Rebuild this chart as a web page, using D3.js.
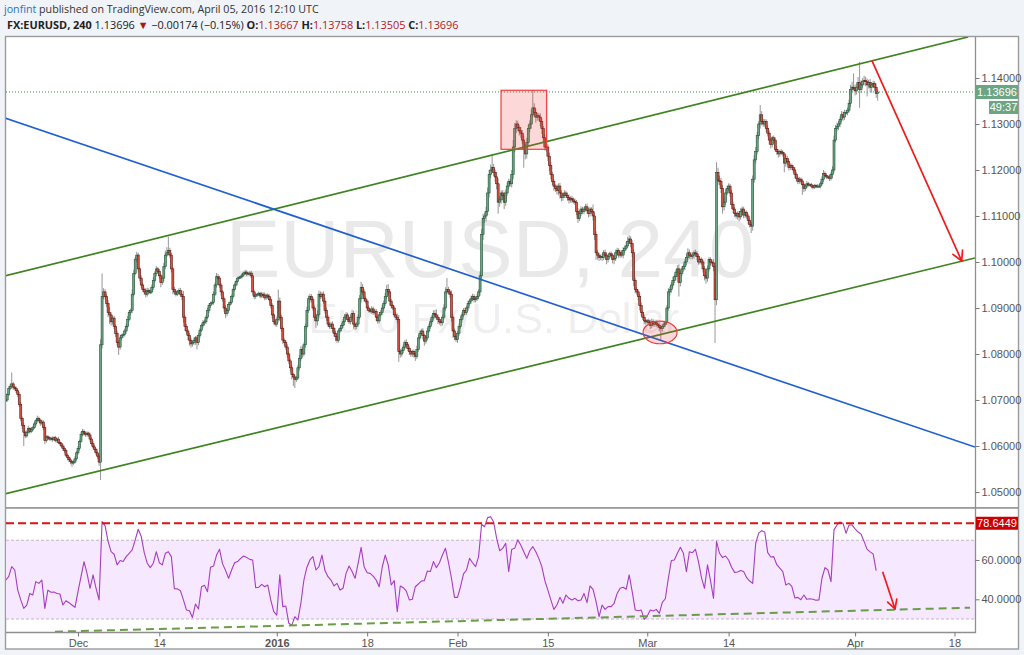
<!DOCTYPE html>
<html><head><meta charset="utf-8">
<script src="https://cdn.jsdelivr.net/npm/d3@7"></script>
<style>
html,body{margin:0;padding:0;background:#f0f3f8;}
svg{display:block;}
</style></head><body>
<svg id="c" width="1024" height="655"></svg>
<script>
// ---------------- DATA ----------------
const startDate = "2015-11-19";
const holidays = ["2015-12-25", "2016-01-01"];
const barsPerDay = 6; // 240-minute bars

// 4h closes, in pips above 1.0000 (one row per trading day)
const closePips = [
700,712,725,730,735,728,
725,720,712,690,660,645,
630,622,630,638,632,636,
640,648,655,660,656,650,
652,640,612,620,618,615,
617,614,618,612,615,608,
605,600,595,590,580,575,
570,566,563,565,572,585,
595,610,625,632,628,625,
628,624,615,605,598,592,
585,578,565,820,925,935,
925,910,890,885,870,878,
860,845,825,815,835,840,
842,850,860,875,890,895,
930,975,1005,1015,985,965,
950,940,935,930,938,935,
935,945,960,975,985,980,
970,955,965,990,1015,1020,
1025,1015,985,940,935,930,
935,938,930,925,880,860,
850,840,830,822,825,830,
835,825,840,852,862,868,
870,880,895,905,910,912,
930,950,968,965,950,935,
920,900,888,895,908,912,
925,940,950,958,965,966,
968,972,976,978,974,975,
976,970,935,925,928,930,
932,926,930,928,922,928,
925,918,905,885,870,865,
875,915,880,855,830,825,
815,800,785,770,755,750,
745,748,770,790,810,800,
820,860,895,920,925,918,
900,880,872,885,930,925,
930,915,895,880,865,860,
865,855,845,838,830,850,
855,862,870,880,885,875,
870,880,888,865,860,865,
880,920,945,935,920,915,
900,895,893,898,890,893,
880,872,885,890,900,910,
925,940,935,915,905,900,
885,880,875,805,800,808,
815,825,820,812,805,800,
805,800,795,810,835,845,
850,840,828,835,850,860,
870,880,888,885,880,875,
870,868,880,900,935,940,
935,930,880,850,838,832,
845,860,875,885,895,890,
900,910,915,920,925,918,
920,925,935,970,1060,1095,
1100,1110,1150,1190,1200,1205,
1195,1185,1170,1130,1135,1150,
1145,1130,1150,1165,1175,1170,
1190,1250,1290,1300,1292,1285,
1280,1265,1245,1235,1260,1290,
1300,1320,1335,1325,1315,1318,
1315,1305,1290,1270,1250,1250,
1230,1210,1190,1175,1165,1160,
1155,1165,1150,1140,1145,1150,
1145,1140,1135,1138,1135,1132,
1130,1110,1095,1105,1115,1110,
1115,1120,1112,1105,1115,1110,
1100,1060,1020,1015,1010,1012,
1010,1020,1015,1005,1012,1018,
1015,1005,1008,1020,1025,1015,
1020,1015,1025,1030,1035,1045,
1050,1040,1020,960,940,935,
925,905,890,880,872,870,
872,868,862,870,865,868,
865,862,858,855,860,865,
868,900,935,940,950,960,
968,978,985,955,975,985,
990,1000,1010,1020,1015,1012,
1015,1020,1018,1012,1000,1005,
1000,985,970,965,985,1005,
1000,998,990,918,1195,1178,
1175,1160,1120,1130,1150,1160,
1165,1150,1125,1115,1105,1100,
1105,1098,1110,1115,1102,1108,
1100,1090,1082,1078,1180,1222,
1240,1275,1300,1320,1305,1300,
1305,1290,1280,1265,1255,1270,
1265,1245,1240,1235,1240,1238,
1235,1215,1225,1218,1205,1210,
1205,1200,1190,1182,1175,1180,
1176,1168,1160,1165,1170,1168,
1168,1165,1162,1166,1164,1165,
1165,1170,1180,1192,1188,1185,
1185,1182,1190,1200,1265,1290,
1295,1300,1310,1320,1315,1325,
1325,1330,1345,1375,1380,1378,
1372,1380,1390,1375,1385,1392,
1395,1392,1385,1390,1380,1385,
1388,1380,1366.7,1369.6
];

// upper / lower wick lengths in pips beyond the candle body
const wickUpPips = [
4,3,5,6,25,4, 3,4,3,5,6,4, 5,3,4,6,3,4, 4,5,3,6,4,3, 5,4,6,3,4,3,
3,4,3,4,3,5, 4,3,5,4,3,4, 3,4,3,5,6,4, 5,4,6,5,4,3, 4,3,5,4,6,4,
4,3,5,12,50,8, 6,5,7,12,6,5, 5,4,6,5,7,4, 4,5,6,8,5,4, 10,8,6,7,5,4,
6,5,4,8,6,5, 5,6,7,5,6,4, 5,4,6,8,10,12, 30,6,5,4,6,5, 4,5,6,8,12,5,
5,4,6,5,4,6, 4,5,6,5,4,6, 5,4,6,5,4,5, 6,5,8,6,5,4, 4,5,6,4,5,4,
4,3,5,4,3,4, 3,4,3,5,4,3, 4,5,6,5,4,3, 4,3,5,4,6,3, 4,5,6,5,4,5,
6,25,8,6,5,4, 5,6,4,5,6,4, 5,4,6,8,7,6, 5,6,8,7,6,5, 6,5,8,10,8,6,
5,6,7,6,5,4, 5,6,4,5,6,5, 4,5,6,7,6,5, 5,6,8,6,5,4, 6,8,12,7,6,5,
4,5,4,6,5,4, 5,4,6,5,7,6, 8,10,12,6,5,4, 5,6,8,10,6,5, 6,5,7,6,5,4,
4,5,6,8,7,6, 5,6,4,5,7,6, 6,5,7,8,12,6, 5,4,6,8,10,25, 6,5,8,6,5,4,
5,6,7,6,5,6, 5,6,5,7,6,5, 4,5,6,10,12,10, 8,10,12,10,12,30, 8,6,10,12,8,6,
6,8,7,8,6,5, 10,15,12,8,7,6, 8,7,10,12,10,8, 8,12,39,10,8,6, 6,8,7,6,8,5,
6,8,7,6,5,4, 8,6,7,6,5,6, 5,6,7,5,6,5, 6,5,7,8,6,5, 5,6,7,6,5,4,
15,8,7,6,5,4, 5,6,7,6,5,4, 5,4,6,7,6,5, 5,6,7,6,8,10, 8,6,7,8,6,5,
5,6,7,5,6,4, 4,5,6,7,5,4, 5,4,6,5,4,5, 4,6,8,7,6,8, 5,6,8,10,8,6,
5,6,8,10,7,6, 6,5,7,6,5,4, 5,4,6,8,7,6, 5,6,8,10,22,10, 10,8,7,10,8,6,
6,5,7,6,5,4, 5,6,7,6,5,4, 4,5,6,5,8,10, 10,8,6,21,8,6, 6,5,7,6,5,4,
5,6,7,5,4,5, 5,4,8,6,5,4, 4,5,6,5,4,5, 4,5,4,5,6,4, 3,4,3,4,3,4,
4,5,6,8,5,4, 4,5,6,8,10,8, 8,7,6,8,7,6, 5,6,8,10,12,30, 8,10,12,45,10,8,
10,8,7,6,8,6, 6,5,8,6.2
];
const wickDnPips = [
5,4,3,4,5,6, 4,5,6,5,6,8, 30,5,4,3,5,4, 4,3,5,4,5,6, 5,6,8,5,4,3,
4,5,3,4,5,4, 5,4,6,5,4,6, 5,6,8,4,3,4, 4,5,3,4,6,5, 5,4,6,5,4,6,
5,6,8,39,8,6, 6,8,10,20,8,6, 6,8,7,17,6,5, 5,4,6,5,4,6, 6,5,4,6,8,7,
6,5,6,7,5,4, 5,4,6,5,6,5, 6,10,5,6,5,4, 5,6,8,10,6,5, 4,5,6,8,12,10,
8,10,12,8,6,5, 10,15,6,5,4,5, 6,5,4,6,5,4, 5,4,6,5,6,8, 6,8,10,6,5,4,
4,5,4,3,4,3, 3,4,3,4,5,3, 4,5,8,6,5,4, 4,5,4,6,5,4, 5,4,6,8,6,5,
6,5,8,6,8,7, 6,8,7,8,10,20, 19,6,5,6,5,8, 5,6,5,6,8,6, 6,8,15,10,6,5,
5,6,7,8,6,5, 6,8,7,10,6,5, 5,6,5,7,6,5, 5,6,7,10,8,6, 6,5,8,7,6,5,
6,5,4,6,5,4, 8,6,5,4,5,6, 6,5,8,10,6,5, 5,6,8,22,8,6, 6,5,8,6,7,6,
6,8,10,6,5,4, 6,8,10,6,5,4, 5,6,7,8,6,10, 6,8,6,5,6,5, 6,8,10,15,8,6,
8,6,5,6,5,6, 5,6,5,6,5,6, 6,5,6,8,10,12, 10,12,8,10,8,6, 8,10,12,25,10,8,
10,15,8,6,7,6, 8,10,12,10,8,10, 10,8,40,12,10,8, 8,10,6,10,12,8, 8,10,12,10,8,10,
10,12,10,8,10,8, 8,10,12,8,7,6, 6,7,8,6,7,5, 6,8,10,6,5,6, 6,5,7,8,6,5,
10,12,15,10,8,6, 8,6,7,10,6,5, 6,8,10,6,5,6, 6,5,7,6,5,4, 6,8,10,12,8,6,
8,10,8,6,7,6, 5,6,8,6,5,6, 6,5,8,25,6,5, 6,5,6,8,7,6, 6,8,10,30,8,6,
6,8,7,6,8,6, 6,8,7,8,6,5, 6,8,10,12,8,6, 8,6,10,94,12,10, 8,10,15,8,6,5,
6,8,10,8,7,6, 8,10,6,8,7,6, 6,8,7,15,10,8, 8,6,8,10,8,6, 6,8,7,10,8,6,
8,6,7,8,6,5, 6,20,8,7,6,5, 5,6,8,7,6,5, 6,22,8,6,5,4, 4,5,4,3,4,3,
4,5,4,6,5,4, 5,6,5,8,6,5, 6,8,7,6,8,6, 5,6,5,8,6,5, 10,8,6,40,8,6,
8,10,25,8,10,12, 6,8,10,16.2
];

// RSI(14) readings, one every 2 bars (bars 0, 2, 4, ...)
const rsiStep = 2;
const rsiValues = [
49.8,51.5,56.6,54.9,44.7,39.7,35.4,37.1,43.0,42.2,
49.0,48.1,49.8,35.4,44.7,43.6,43.7,43.0,42.7,37.1,
39.3,38.3,37.1,35.9,43.9,51.5,59.1,53.2,45.6,52.4,
45.6,39.7,79.5,77.3,69.3,64.2,62.9,57.5,59.7,59.2,
61.7,63.4,65.1,70.2,75.6,71.9,63.7,58.3,56.1,58.3,
64.2,58.6,57.5,63.4,64.2,61.7,45.4,45.3,44.4,39.7,
34.6,34.2,30.8,37.6,35.1,46.4,47.1,43.9,56.3,56.9,
62.5,65.4,58.0,54.6,50.7,54.9,58.6,59.2,60.8,62.0,
61.3,60.3,60.0,45.9,46.1,47.6,46.4,47.3,39.7,33.7,
32.0,52.4,36.3,36.6,27.8,26.9,31.2,29.5,38.0,49.8,
56.3,60.0,61.7,54.9,56.6,62.5,54.6,51.5,
49.8,46.8,48.1,44.7,45.6,53.2,56.9,54.1,50.7,58.3,
66.4,56.6,53.5,53.2,51.8,49.8,46.4,56.3,62.5,57.5,
47.3,49.5,33.7,46.8,45.9,44.2,39.7,40.0,46.4,47.8,
49.3,49.5,54.4,54.1,59.2,56.1,58.6,62.5,65.9,58.8,
50.7,41.0,41.0,46.4,52.9,54.9,60.8,58.6,56.6,61.7,
78.0,76.9,81.5,82.0,79.3,71.0,64.7,65.9,68.5,54.1,
65.4,65.9,70.2,67.6,64.2,60.8,64.7,66.8,64.2,60.8,
56.6,49.5,44.7,39.7,34.9,37.1,41.0,38.0,42.2,40.5,
39.7,40.5,39.3,39.7,43.0,38.3,46.8,45.1,38.8,31.2,
37.1,34.9,36.3,36.3,38.0,43.0,45.6,46.1,45.1,52.4,
43.9,34.6,34.2,34.6,29.8,31.5,
34.6,34.1,34.9,32.9,38.5,40.3,50.7,59.7,60.0,63.4,
66.4,63.4,54.1,64.2,63.7,65.4,59.2,51.0,45.6,57.5,
49.5,40.5,69.5,63.4,61.2,62.0,60.0,56.3,53.7,53.9,
54.6,54.1,51.0,49.3,48.1,68.5,73.6,74.9,74.2,63.7,
61.5,61.7,57.6,55.8,54.1,47.3,48.1,46.6,40.7,41.0,
39.8,42.2,40.0,40.3,40.0,39.5,39.7,50.7,56.1,54.9,
49.0,75.3,77.8,79.3,78.6,73.6,77.8,77.8,75.8,74.2,
73.1,69.3,65.4,64.1,63.1,54.6
];

const tickDates  = ["2015-12-01","2015-12-14","2016-01-04","2016-01-18","2016-02-01","2016-02-15","2016-03-01","2016-03-14","2016-04-01","2016-04-18"];
const tickLabels = ["Dec","14","2016","18","Feb","15","Mar","14","Apr","18"];
const boldTicks  = ["2016"];
const priceTicks = [1.05,1.06,1.07,1.08,1.09,1.10,1.11,1.12,1.13,1.14];
const rsiTicks   = [40,60];
const rsiBand    = [70,30];
const fibLevel   = 78.6449;
const lastPrice  = 1.13696;
const countdown  = "49:37";

// drawings: [bar index, price]
const upperChannel = [[-0.5,1.09696],[639,1.14891]];
const lowerChannel = [[-0.5,1.04957],[643.6,1.10087]];
const blueTrend    = [[-0.5,1.13130],[643.6,1.05978]];
const priceArrow   = [[575.2,1.14376],[634.8,1.10022]];
const highlightBox = [[328.9,1.13733],[359.2,1.12450]];
const lowEllipse   = [[423.2,1.08714],[445.8,1.08223]];
// RSI drawings: [bar index, rsi]
const rsiTrend = [[32.7,23.55],[640.3,35.75]];
const rsiArrow = [[582.3,54.05],[590.5,35.09]];

const headerAuthor = "jonfint";
const headerPublished = " published on TradingView.com, April 05, 2016 12:10 UTC";
const quoteSymbol = "FX:EURUSD, 240";
const quoteLast = "1.13696";
const quoteChange = "\u22120.00174 (\u22120.15%)";
const ohlcKeys = ["O:","H:","L:","C:"];
const ohlcVals = ["1.13667","1.13758","1.13505","1.13696"];
const watermarkMain = "EURUSD, 240";
const watermarkSub = "Euro Fx/U.S. Dollar";

// ---------------- LAYOUT ----------------
const svg = d3.select("#c");
const plotL = 6, plotR = 975, mainT = 37, mainB = 507, rsiT = 509, rsiB = 632;
const FONT = "'Liberation Sans', Arial, sans-serif";

function tradingDays(n){
  const out=[]; let t=Date.parse(startDate+"T00:00:00Z");
  while(out.length<n){ const d=new Date(t); const s=d.toISOString().slice(0,10); const wd=d.getUTCDay();
    if(wd!==0&&wd!==6&&!holidays.includes(s)) out.push(s); t+=86400000; }
  return out;
}
const days = tradingDays(130);
const barOf = s => days.indexOf(s)*barsPerDay;

const x = d3.scaleLinear().domain([0,600]).range([5.7, 5.7+600*1.506]);
const y = d3.scaleLinear().domain([1.04674,1.14891]).range([mainB, mainT]);
const yR = d3.scaleLinear().domain([23.4,86.4]).range([rsiB, rsiT-1]);

const closes = closePips.map(p => 1 + p/10000);
const bars = closes.map((c,i) => {
  const o = i===0 ? c : closes[i-1];
  return {i, o, c, h: Math.max(o,c)+wickUpPips[i]/10000, l: Math.min(o,c)-wickDnPips[i]/10000};
});

// frame
svg.append("rect").attr("x",5.5).attr("y",36.5).attr("width",1013).attr("height",612.5)
  .attr("fill","#fff").attr("stroke","#9b9b9b").attr("stroke-width",1.4);

const defs = svg.append("defs");
defs.append("clipPath").attr("id","cm").append("rect").attr("x",plotL).attr("y",mainT).attr("width",plotR-plotL).attr("height",mainB-mainT);
defs.append("clipPath").attr("id","cr").append("rect").attr("x",plotL).attr("y",rsiT).attr("width",plotR-plotL).attr("height",rsiB-rsiT);

// watermark
const cx0 = 490;
svg.append("text").attr("x",cx0).attr("y",277).attr("text-anchor","middle")
  .attr("font-family",FONT).attr("font-size",82).attr("fill","rgba(0,0,0,0.085)").text(watermarkMain);
svg.append("text").attr("x",cx0+4).attr("y",333).attr("text-anchor","middle")
  .attr("font-family",FONT).attr("font-size",43).attr("fill","rgba(0,0,0,0.085)").text(watermarkSub);

const main = svg.append("g").attr("clip-path","url(#cm)");

// last price dotted line
main.append("line").attr("x1",plotL).attr("x2",plotR).attr("y1",y(lastPrice)).attr("y2",y(lastPrice))
  .attr("stroke","#3d8c4f").attr("stroke-width",1).attr("stroke-dasharray","1,2");

// candles
const cg = main.append("g");
cg.selectAll("line.w").data(bars).join("line").attr("class","w")
  .attr("x1",d=>x(d.i)).attr("x2",d=>x(d.i)).attr("y1",d=>y(d.h)).attr("y2",d=>y(d.l))
  .attr("stroke","#8a8a8c").attr("stroke-width",0.9);
cg.selectAll("rect.b").data(bars).join("rect").attr("class","b")
  .attr("x",d=>x(d.i)-1).attr("width",2)
  .attr("y",d=>y(Math.max(d.o,d.c)))
  .attr("height",d=>Math.max(1, y(Math.min(d.o,d.c))-y(Math.max(d.o,d.c))))
  .attr("fill",d=>d.c>=d.o?"#6ba583":"#d75442")
  .attr("stroke",d=>d.c>=d.o?"#225437":"#5b1a13").attr("stroke-width",0.6);

// drawings
const seg = (g,pts,color,w) => g.append("line")
  .attr("x1",x(pts[0][0])).attr("y1",y(pts[0][1])).attr("x2",x(pts[1][0])).attr("y2",y(pts[1][1]))
  .attr("stroke",color).attr("stroke-width",w);
seg(main, upperChannel, "#3f8320", 1.7);
seg(main, lowerChannel, "#3f8320", 1.7);
seg(main, blueTrend, "#1f5fcf", 1.7);

main.append("rect")
  .attr("x",x(highlightBox[0][0])).attr("y",y(highlightBox[0][1]))
  .attr("width",x(highlightBox[1][0])-x(highlightBox[0][0]))
  .attr("height",y(highlightBox[1][1])-y(highlightBox[0][1]))
  .attr("fill","rgba(240,60,60,0.2)").attr("stroke","#f03c3c").attr("stroke-width",1.2);
main.append("ellipse")
  .attr("cx",(x(lowEllipse[0][0])+x(lowEllipse[1][0]))/2)
  .attr("cy",(y(lowEllipse[0][1])+y(lowEllipse[1][1]))/2)
  .attr("rx",(x(lowEllipse[1][0])-x(lowEllipse[0][0]))/2)
  .attr("ry",(y(lowEllipse[1][1])-y(lowEllipse[0][1]))/2)
  .attr("fill","rgba(240,60,60,0.2)").attr("stroke","#f03c3c").attr("stroke-width",1.2);

function arrow(g, x1,y1,x2,y2, color, w, len){
  g.append("line").attr("x1",x1).attr("y1",y1).attr("x2",x2).attr("y2",y2).attr("stroke",color).attr("stroke-width",w);
  const a = Math.atan2(y2-y1,x2-x1);
  [-0.5,0.5].forEach(da=>{
    g.append("line").attr("x1",x2).attr("y1",y2)
      .attr("x2",x2-len*Math.cos(a+da)).attr("y2",y2-len*Math.sin(a+da))
      .attr("stroke",color).attr("stroke-width",w).attr("stroke-linecap","round");
  });
}
arrow(svg, x(priceArrow[0][0]),y(priceArrow[0][1]),x(priceArrow[1][0]),y(priceArrow[1][1]),"#f21a1a",1.7,11);

// separator between panes
svg.append("rect").attr("x",5.5).attr("y",507).attr("width",1013).attr("height",1.8).attr("fill","#9b9b9b");

// RSI pane
const rg = svg.append("g").attr("clip-path","url(#cr)");
rg.append("rect").attr("x",plotL).attr("width",plotR-plotL)
  .attr("y",yR(rsiBand[0])).attr("height",yR(rsiBand[1])-yR(rsiBand[0])).attr("fill","#f5e8ff");
rsiBand.forEach(v=>rg.append("line").attr("x1",plotL).attr("x2",plotR).attr("y1",yR(v)).attr("y2",yR(v))
  .attr("stroke","#c4b6cc").attr("stroke-width",1).attr("stroke-dasharray","3,2"));

rg.append("path").datum(rsiValues).attr("fill","none").attr("stroke","#a83cc2").attr("stroke-width",1.1)
  .attr("stroke-linejoin","round")
  .attr("d", d3.line().x((d,i)=>x(i*rsiStep)).y(d=>yR(d)));

rg.append("line").attr("x1",plotL).attr("x2",plotR).attr("y1",yR(fibLevel)).attr("y2",yR(fibLevel))
  .attr("stroke","#e01010").attr("stroke-width",2).attr("stroke-dasharray","8,4");
rg.append("line").attr("x1",x(rsiTrend[0][0])).attr("y1",yR(rsiTrend[0][1]))
  .attr("x2",x(rsiTrend[1][0])).attr("y2",yR(rsiTrend[1][1]))
  .attr("stroke","#6a9d48").attr("stroke-width",2).attr("stroke-dasharray","8,5");
arrow(svg, x(rsiArrow[0][0]),yR(rsiArrow[0][1]),x(rsiArrow[1][0]),yR(rsiArrow[1][1]),"#f21a1a",1.7,10);

// axes lines
svg.append("line").attr("x1",975.5).attr("x2",975.5).attr("y1",37).attr("y2",633).attr("stroke","#8f8f8f").attr("stroke-width",1.3);
svg.append("line").attr("x1",6).attr("x2",976).attr("y1",632.5).attr("y2",632.5).attr("stroke","#8f8f8f").attr("stroke-width",1.3);

// right price axis
const pa = svg.append("g").attr("transform","translate(975.5,0)")
  .call(d3.axisRight(y).tickValues(priceTicks).tickFormat(d3.format(".5f")).tickSize(4).tickPadding(2));
pa.select(".domain").remove();
pa.selectAll("line").attr("stroke","#777");
pa.selectAll("text").attr("font-family",FONT).attr("font-size",11).attr("fill","#555");

const ra = svg.append("g").attr("transform","translate(975.5,0)")
  .call(d3.axisRight(yR).tickValues(rsiTicks).tickFormat(d3.format(".4f")).tickSize(4).tickPadding(2));
ra.select(".domain").remove();
ra.selectAll("line").attr("stroke","#777");
ra.selectAll("text").attr("font-family",FONT).attr("font-size",11).attr("fill","#555");

// bottom time axis
const xa = svg.append("g").attr("transform","translate(0,632.5)")
  .call(d3.axisBottom(x).tickValues(tickDates.map(barOf)).tickFormat((d,i)=>tickLabels[i]).tickSize(4).tickPadding(3));
xa.select(".domain").remove();
xa.selectAll("line").attr("stroke","#777");
xa.selectAll("text").attr("font-family",FONT).attr("font-size",11).attr("fill","#555")
  .attr("font-weight",(d,i)=>boldTicks.includes(tickLabels[i])?"bold":"normal");

// price labels
function tag(yc, h, x0, x1, color, txt){
  svg.append("rect").attr("x",x0).attr("y",yc-h/2).attr("width",x1-x0).attr("height",h).attr("fill",color);
  svg.append("text").attr("x",x0+(x1-x0)/2).attr("y",yc).attr("dy","0.35em").attr("text-anchor","middle")
    .attr("font-family",FONT).attr("font-size",11).attr("fill","#fff").text(txt);
}
tag(y(lastPrice), 14, 976, 1018, "#6ba583", d3.format(".5f")(lastPrice));
tag(y(lastPrice)+15.5, 13, 989, 1018, "#6ba583", countdown);
tag(yR(fibLevel), 13, 976, 1018, "#cc0000", d3.format(".4f")(fibLevel));

// header
const HF = "'Open Sans', 'Noto Sans', sans-serif";
const h1 = svg.append("text").attr("x",4).attr("y",13).attr("font-family",HF).attr("font-size",12);
h1.append("tspan").attr("fill","#2a73b8").text(headerAuthor);
h1.append("tspan").attr("fill","#333").text(headerPublished);
const h2 = svg.append("text").attr("x",7).attr("y",28.5).attr("font-family",HF).attr("font-size",11.5).attr("fill","#222");
h2.append("tspan").attr("font-weight","bold").text(quoteSymbol);
h2.append("tspan").text(" " + quoteLast + " ");
h2.append("tspan").attr("fill","#b01515").text("\u25BC");
h2.append("tspan").text(" " + quoteChange + " ");
ohlcKeys.forEach((k,i)=>{
  h2.append("tspan").attr("font-weight","bold").text((i? " ":"") + k);
  h2.append("tspan").attr("fill","#b32121").text(ohlcVals[i]);
});
function fit(t, w){ const cw = t.node().getComputedTextLength(); const fs = +t.attr("font-size"); t.attr("font-size", fs*w/cw); }
fit(h1, 315); fit(h2, 452);
</script>
</body></html>
